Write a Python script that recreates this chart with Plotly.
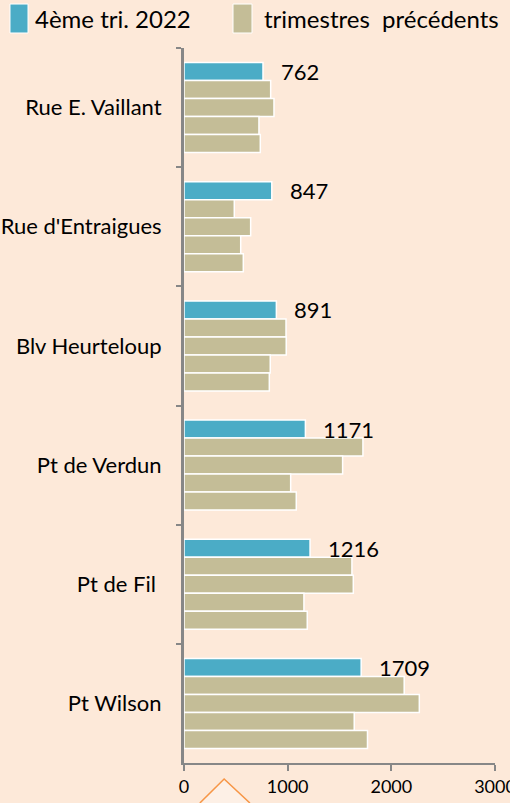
import plotly.graph_objects as go

categories = ["Rue E. Vaillant", "Rue d'Entraigues", "Blv Heurteloup", "Pt de Verdun", "Pt de Fil ", "Pt Wilson"]
current_label = "4ème tri. 2022"
previous_label = "trimestres  précédents"
current = [762, 847, 891, 1171, 1216, 1709]
prev1 = [836, 485, 984, 1726, 1620, 2124]
prev2 = [868, 643, 986, 1530, 1633, 2270]
prev3 = [723, 547, 832, 1029, 1157, 1642]
prev4 = [736, 572, 823, 1083, 1189, 1770]
x_ticks = [0, 1000, 2000, 3000]

BLUE = "#4BACC6"
TAN = "#C4BD97"
BG = "#FDE9D9"
AXIS = "#878787"
FONT = "Lato"

fig = go.Figure()
fig.add_trace(go.Bar(y=categories, x=current, orientation="h", name=current_label,
                     marker=dict(color=BLUE, line=dict(color="white", width=1.5)),
                     showlegend=False))
for i, series in enumerate([prev1, prev2, prev3, prev4]):
    fig.add_trace(go.Bar(y=categories, x=series, orientation="h", name=previous_label,
                         marker=dict(color=TAN, line=dict(color="white", width=1.5)),
                         showlegend=False))

for cat, v in zip(categories, current):
    fig.add_annotation(x=v, y=cat, text=str(v), showarrow=False, xanchor="left",
                       xshift=16, yshift=36, font=dict(family=FONT, size=22, color="black"))

# legend drawn manually (large markers as in the reference)
legend_items = [(current_label, BLUE, -0.5595, -0.5016, -0.4855),
                (previous_label, TAN, 0.1576, 0.2186, 0.2508)]
for label, color, x0, x1, xt in legend_items:
    fig.add_shape(type="rect", xref="paper", yref="paper", x0=x0, x1=x1, y0=1.021, y1=1.0615,
                  fillcolor=color, line=dict(color="white", width=1), layer="above")
    fig.add_annotation(xref="paper", yref="paper", x=xt, y=1.0406, text=label.replace("  ", "&nbsp; "),
                       showarrow=False, xanchor="left", yanchor="middle",
                       font=dict(family=FONT, size=24, color="black"))

# decorative orange caret at bottom
fig.add_shape(type="path", xref="paper", yref="paper",
              path="M 0.051 -0.056 L 0.129 -0.0224 L 0.212 -0.056",
              line=dict(color="#F79646", width=1.5), fillcolor="#FDF0E6", layer="above")

fig.update_layout(
    width=510, height=803,
    paper_bgcolor=BG, plot_bgcolor=BG,
    margin=dict(l=184, r=15, t=48, b=40, autoexpand=False),
    barmode="group", bargap=0.245, bargroupgap=0,
    font=dict(family=FONT, size=18, color="black"),
    showlegend=False,
)
fig.update_xaxes(range=[0, 3000], tickvals=x_ticks, showgrid=False, zeroline=False,
                 showline=True, linecolor=AXIS, linewidth=2, ticks="outside", ticklen=6,
                 tickcolor=AXIS, tickwidth=2, tickfont=dict(family=FONT, size=18),
                 automargin=False, ticklabeloverflow="allow", fixedrange=True)
fig.update_yaxes(autorange="reversed", showgrid=False, showline=True, linecolor=AXIS, linewidth=3,
                 ticks="outside", tickson="boundaries", ticklen=5, tickcolor=AXIS, tickwidth=2,
                 tickfont=dict(family=FONT, size=22), ticklabelstandoff=15,
                 automargin=False, ticklabeloverflow="allow", fixedrange=True)

fig.write_html("out.html", config={"displayModeBar": False, "staticPlot": True},
               post_script="document.body.style.margin='0';document.body.style.overflow='hidden';")
